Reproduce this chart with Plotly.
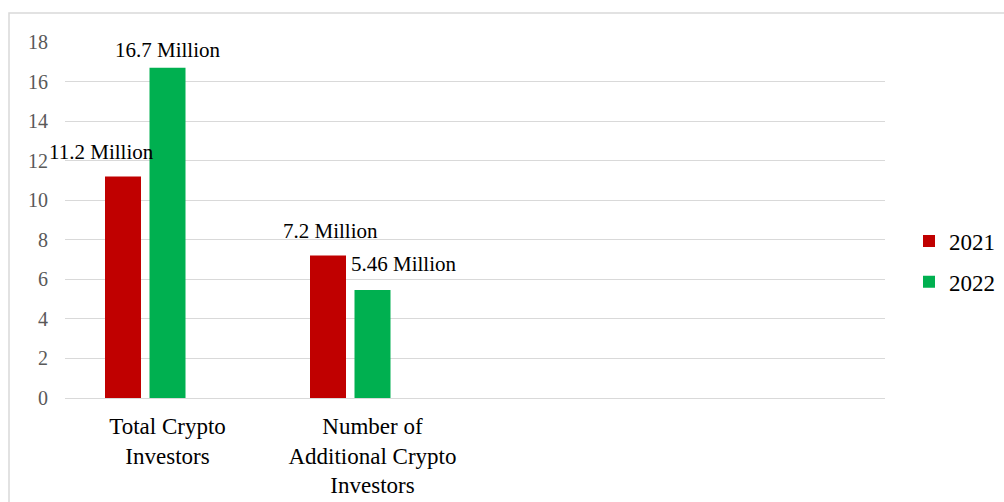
import plotly.graph_objects as go

categories = ["Total Crypto<br>Investors", "Number of<br>Additional Crypto<br>Investors", "", ""]
series_names = ["2021", "2022"]
values_2021 = [11.2, 7.2]
values_2022 = [16.7, 5.46]
labels_2021 = ["11.2 Million", "7.2 Million"]
labels_2022 = ["16.7 Million", "5.46 Million"]
y_ticks = [0, 2, 4, 6, 8, 10, 12, 14, 16, 18]

colors = ["#C00000", "#00B050"]
FONT = "Liberation Serif"

cat_px = 205.0
bar_w = 36 / cat_px
pitch = 46 / cat_px
offsets = [-pitch - bar_w / 2 + 1.5 / cat_px, -bar_w / 2]

fig = go.Figure()
xs = list(range(len(values_2021)))
for k, (name, vals) in enumerate(zip(series_names, [values_2021, values_2022])):
    fig.add_trace(go.Bar(
        x=xs, y=vals, name=name,
        width=bar_w, offset=offsets[k],
        marker=dict(color=colors[k], line=dict(width=0)),
        legendgroup=name,
        hoverinfo="skip",
    ))

# data labels
label_adj = {  # (xshift, yshift) to mimic Excel placement
    (0, 0): (-22, 24), (0, 1): (0, 18),
    (1, 0): (2, 25), (1, 1): (31, 26),
}
for k, (vals, labs) in enumerate(zip([values_2021, values_2022], [labels_2021, labels_2022])):
    for i, (v, t) in enumerate(zip(vals, labs)):
        xs_, ys_ = label_adj[(i, k)]
        fig.add_annotation(
            x=i + offsets[k] + bar_w / 2, y=v, text=t, showarrow=False,
            xanchor="center", yanchor="middle", xshift=xs_, yshift=ys_,
            font=dict(family=FONT, size=21, color="#000000"),
        )

# chart border (Excel chart area)
fig.add_shape(type="rect", xref="paper", yref="paper",
              x0=(9 - 65) / 820, x1=(1010 - 65) / 820,
              y0=(398 - 520) / 356, y1=(398 - 13) / 356,
              line=dict(color="#D9D9D9", width=1.5), layer="below")

fig.update_layout(
    width=1004, height=502,
    margin=dict(l=65, r=119, t=42, b=104, autoexpand=False),
    paper_bgcolor="white", plot_bgcolor="white",
    showlegend=True,
    legend=dict(
        xref="container", yref="container",
        x=909 / 1004, y=1 - 261.5 / 502, xanchor="left", yanchor="middle",
        font=dict(family=FONT, size=23, color="#000000"),
        tracegroupgap=8, itemwidth=30, bgcolor="rgba(0,0,0,0)",
    ),
    xaxis=dict(
        range=[-0.5, 3.5],
        tickmode="array", tickvals=list(range(len(categories))), ticktext=categories,
        showgrid=False, zeroline=False,
        showline=True, linecolor="#D9D9D9", linewidth=1,
        ticks="", ticklabelstandoff=7,
        tickfont=dict(family=FONT, size=23, color="#000000"),
        fixedrange=True,
    ),
    yaxis=dict(
        range=[0, 18], tickmode="array", tickvals=y_ticks,
        showgrid=True, gridcolor="#D9D9D9", gridwidth=1,
        zeroline=False, showline=False, ticks="",
        ticklabelstandoff=16,
        tickfont=dict(family=FONT, size=20, color="#595959"),
        fixedrange=True,
    ),
    font=dict(family=FONT, size=20),
)

fig.write_html("out.html")
